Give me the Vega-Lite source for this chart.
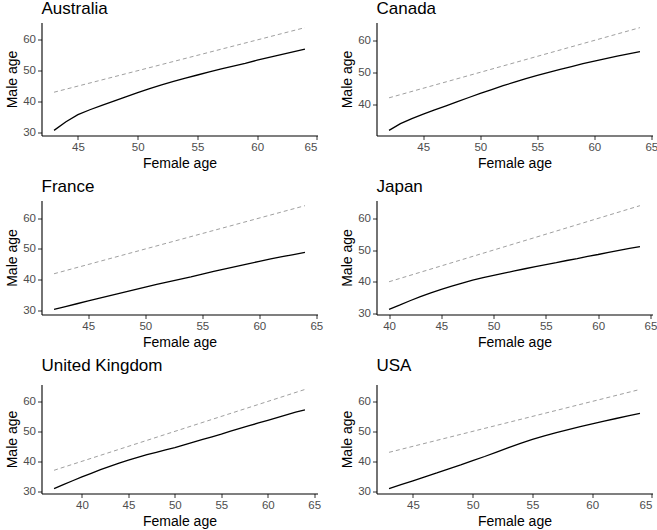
{
  "$schema": "https://vega.github.io/schema/vega-lite/v6.json",
  "padding": {"left": 5.5, "top": -0.5, "right": 0, "bottom": 0},
  "background": "white",
  "datasets": {
    "curves": [
      {"country":"Australia","kind":"fit","female":43,"male":30.6},{"country":"Australia","kind":"fit","female":44,"male":33.4},{"country":"Australia","kind":"fit","female":45,"male":35.7},{"country":"Australia","kind":"fit","female":46,"male":37.3},{"country":"Australia","kind":"fit","female":47,"male":38.7},{"country":"Australia","kind":"fit","female":48,"male":40.1},{"country":"Australia","kind":"fit","female":49,"male":41.5},{"country":"Australia","kind":"fit","female":50,"male":42.9},{"country":"Australia","kind":"fit","female":51,"male":44.2},{"country":"Australia","kind":"fit","female":52,"male":45.4},{"country":"Australia","kind":"fit","female":53,"male":46.5},{"country":"Australia","kind":"fit","female":54,"male":47.6},{"country":"Australia","kind":"fit","female":55,"male":48.6},{"country":"Australia","kind":"fit","female":56,"male":49.6},{"country":"Australia","kind":"fit","female":57,"male":50.6},{"country":"Australia","kind":"fit","female":58,"male":51.5},{"country":"Australia","kind":"fit","female":59,"male":52.4},{"country":"Australia","kind":"fit","female":60,"male":53.4},{"country":"Australia","kind":"fit","female":61,"male":54.3},{"country":"Australia","kind":"fit","female":62,"male":55.2},{"country":"Australia","kind":"fit","female":63,"male":56.1},{"country":"Australia","kind":"fit","female":64,"male":57.0},
      {"country":"Australia","kind":"equal","female":43,"male":43},{"country":"Australia","kind":"equal","female":64,"male":64},
      {"country":"Canada","kind":"fit","female":42,"male":31.8},{"country":"Canada","kind":"fit","female":43,"male":33.9},{"country":"Canada","kind":"fit","female":44,"male":35.5},{"country":"Canada","kind":"fit","female":45,"male":36.9},{"country":"Canada","kind":"fit","female":46,"male":38.2},{"country":"Canada","kind":"fit","female":47,"male":39.5},{"country":"Canada","kind":"fit","female":48,"male":40.8},{"country":"Canada","kind":"fit","female":49,"male":42.1},{"country":"Canada","kind":"fit","female":50,"male":43.4},{"country":"Canada","kind":"fit","female":51,"male":44.6},{"country":"Canada","kind":"fit","female":52,"male":45.8},{"country":"Canada","kind":"fit","female":53,"male":46.9},{"country":"Canada","kind":"fit","female":54,"male":48.0},{"country":"Canada","kind":"fit","female":55,"male":49.0},{"country":"Canada","kind":"fit","female":56,"male":50.0},{"country":"Canada","kind":"fit","female":57,"male":50.9},{"country":"Canada","kind":"fit","female":58,"male":51.8},{"country":"Canada","kind":"fit","female":59,"male":52.7},{"country":"Canada","kind":"fit","female":60,"male":53.5},{"country":"Canada","kind":"fit","female":61,"male":54.3},{"country":"Canada","kind":"fit","female":62,"male":55.1},{"country":"Canada","kind":"fit","female":63,"male":55.8},{"country":"Canada","kind":"fit","female":64,"male":56.5},
      {"country":"Canada","kind":"equal","female":42,"male":42},{"country":"Canada","kind":"equal","female":64,"male":64},
      {"country":"France","kind":"fit","female":42,"male":30.5},{"country":"France","kind":"fit","female":43,"male":31.4},{"country":"France","kind":"fit","female":44,"male":32.3},{"country":"France","kind":"fit","female":45,"male":33.2},{"country":"France","kind":"fit","female":46,"male":34.1},{"country":"France","kind":"fit","female":47,"male":35.0},{"country":"France","kind":"fit","female":48,"male":35.9},{"country":"France","kind":"fit","female":49,"male":36.8},{"country":"France","kind":"fit","female":50,"male":37.7},{"country":"France","kind":"fit","female":51,"male":38.6},{"country":"France","kind":"fit","female":52,"male":39.4},{"country":"France","kind":"fit","female":53,"male":40.2},{"country":"France","kind":"fit","female":54,"male":41.0},{"country":"France","kind":"fit","female":55,"male":41.9},{"country":"France","kind":"fit","female":56,"male":42.8},{"country":"France","kind":"fit","female":57,"male":43.6},{"country":"France","kind":"fit","female":58,"male":44.4},{"country":"France","kind":"fit","female":59,"male":45.2},{"country":"France","kind":"fit","female":60,"male":46.0},{"country":"France","kind":"fit","female":61,"male":46.8},{"country":"France","kind":"fit","female":62,"male":47.5},{"country":"France","kind":"fit","female":63,"male":48.2},{"country":"France","kind":"fit","female":64,"male":48.9},
      {"country":"France","kind":"equal","female":42,"male":42},{"country":"France","kind":"equal","female":64,"male":64},
      {"country":"Japan","kind":"fit","female":40,"male":31.3},{"country":"Japan","kind":"fit","female":41,"male":32.6},{"country":"Japan","kind":"fit","female":42,"male":34.0},{"country":"Japan","kind":"fit","female":43,"male":35.3},{"country":"Japan","kind":"fit","female":44,"male":36.5},{"country":"Japan","kind":"fit","female":45,"male":37.6},{"country":"Japan","kind":"fit","female":46,"male":38.6},{"country":"Japan","kind":"fit","female":47,"male":39.6},{"country":"Japan","kind":"fit","female":48,"male":40.5},{"country":"Japan","kind":"fit","female":49,"male":41.3},{"country":"Japan","kind":"fit","female":50,"male":42.0},{"country":"Japan","kind":"fit","female":51,"male":42.7},{"country":"Japan","kind":"fit","female":52,"male":43.4},{"country":"Japan","kind":"fit","female":53,"male":44.1},{"country":"Japan","kind":"fit","female":54,"male":44.8},{"country":"Japan","kind":"fit","female":55,"male":45.4},{"country":"Japan","kind":"fit","female":56,"male":46.0},{"country":"Japan","kind":"fit","female":57,"male":46.7},{"country":"Japan","kind":"fit","female":58,"male":47.3},{"country":"Japan","kind":"fit","female":59,"male":48.0},{"country":"Japan","kind":"fit","female":60,"male":48.6},{"country":"Japan","kind":"fit","female":61,"male":49.3},{"country":"Japan","kind":"fit","female":62,"male":49.9},{"country":"Japan","kind":"fit","female":63,"male":50.5},{"country":"Japan","kind":"fit","female":64,"male":51.1},
      {"country":"Japan","kind":"equal","female":40,"male":40},{"country":"Japan","kind":"equal","female":64,"male":64},
      {"country":"United Kingdom","kind":"fit","female":37,"male":30.9},{"country":"United Kingdom","kind":"fit","female":38,"male":32.2},{"country":"United Kingdom","kind":"fit","female":39,"male":33.5},{"country":"United Kingdom","kind":"fit","female":40,"male":34.8},{"country":"United Kingdom","kind":"fit","female":41,"male":36.0},{"country":"United Kingdom","kind":"fit","female":42,"male":37.2},{"country":"United Kingdom","kind":"fit","female":43,"male":38.3},{"country":"United Kingdom","kind":"fit","female":44,"male":39.4},{"country":"United Kingdom","kind":"fit","female":45,"male":40.4},{"country":"United Kingdom","kind":"fit","female":46,"male":41.3},{"country":"United Kingdom","kind":"fit","female":47,"male":42.2},{"country":"United Kingdom","kind":"fit","female":48,"male":43.0},{"country":"United Kingdom","kind":"fit","female":49,"male":43.8},{"country":"United Kingdom","kind":"fit","female":50,"male":44.6},{"country":"United Kingdom","kind":"fit","female":51,"male":45.5},{"country":"United Kingdom","kind":"fit","female":52,"male":46.4},{"country":"United Kingdom","kind":"fit","female":53,"male":47.3},{"country":"United Kingdom","kind":"fit","female":54,"male":48.2},{"country":"United Kingdom","kind":"fit","female":55,"male":49.1},{"country":"United Kingdom","kind":"fit","female":56,"male":50.1},{"country":"United Kingdom","kind":"fit","female":57,"male":51.0},{"country":"United Kingdom","kind":"fit","female":58,"male":51.9},{"country":"United Kingdom","kind":"fit","female":59,"male":52.8},{"country":"United Kingdom","kind":"fit","female":60,"male":53.7},{"country":"United Kingdom","kind":"fit","female":61,"male":54.6},{"country":"United Kingdom","kind":"fit","female":62,"male":55.5},{"country":"United Kingdom","kind":"fit","female":63,"male":56.4},{"country":"United Kingdom","kind":"fit","female":64,"male":57.2},
      {"country":"United Kingdom","kind":"equal","female":37,"male":37},{"country":"United Kingdom","kind":"equal","female":64,"male":64},
      {"country":"USA","kind":"fit","female":43,"male":30.9},{"country":"USA","kind":"fit","female":44,"male":32.2},{"country":"USA","kind":"fit","female":45,"male":33.5},{"country":"USA","kind":"fit","female":46,"male":34.8},{"country":"USA","kind":"fit","female":47,"male":36.1},{"country":"USA","kind":"fit","female":48,"male":37.5},{"country":"USA","kind":"fit","female":49,"male":38.8},{"country":"USA","kind":"fit","female":50,"male":40.2},{"country":"USA","kind":"fit","female":51,"male":41.6},{"country":"USA","kind":"fit","female":52,"male":43.1},{"country":"USA","kind":"fit","female":53,"male":44.6},{"country":"USA","kind":"fit","female":54,"male":46.0},{"country":"USA","kind":"fit","female":55,"male":47.3},{"country":"USA","kind":"fit","female":56,"male":48.5},{"country":"USA","kind":"fit","female":57,"male":49.6},{"country":"USA","kind":"fit","female":58,"male":50.6},{"country":"USA","kind":"fit","female":59,"male":51.6},{"country":"USA","kind":"fit","female":60,"male":52.5},{"country":"USA","kind":"fit","female":61,"male":53.4},{"country":"USA","kind":"fit","female":62,"male":54.3},{"country":"USA","kind":"fit","female":63,"male":55.2},{"country":"USA","kind":"fit","female":64,"male":56.0},
      {"country":"USA","kind":"equal","female":43,"male":43},{"country":"USA","kind":"equal","female":64,"male":64}
    ]
  },
  "data": {"name": "curves"},
  "columns": 2,
  "spacing": {"column": 17, "row": 7},
  "resolve": {"scale": {"x": "independent", "y": "independent"}},
  "concat": [
    {
      "title": {"text": "Australia"},
      "width": 276, "height": 113,
      "transform": [{"filter": "datum.country === 'Australia'"}],
      "encoding": {
        "x": {"field": "female", "type": "quantitative", "title": "Female age", "scale": {"domain": [41.95, 65.05], "nice": false, "zero": false}, "axis": {"values": [45, 50, 55, 60, 65]}},
        "y": {"field": "male", "type": "quantitative", "title": "Male age", "scale": {"domain": [28.93, 65.67], "nice": false, "zero": false}, "axis": {"values": [30, 40, 50, 60]}}
      },
      "layer": [
        {"transform": [{"filter": "datum.kind === 'equal'"}], "mark": {"type": "line", "color": "#a0a0a0", "strokeWidth": 1, "strokeDash": [4, 3]}},
        {"transform": [{"filter": "datum.kind === 'fit'"}], "mark": {"type": "line", "color": "black", "strokeWidth": 1.3}}
      ]
    },
    {
      "title": {"text": "Canada"},
      "width": 276, "height": 113,
      "transform": [{"filter": "datum.country === 'Canada'"}],
      "encoding": {
        "x": {"field": "female", "type": "quantitative", "title": "Female age", "scale": {"domain": [40.9, 65.1], "nice": false, "zero": false}, "axis": {"values": [45, 50, 55, 60, 65]}},
        "y": {"field": "male", "type": "quantitative", "title": "Male age", "scale": {"domain": [30.19, 65.61], "nice": false, "zero": false}, "axis": {"values": [40, 50, 60]}}
      },
      "layer": [
        {"transform": [{"filter": "datum.kind === 'equal'"}], "mark": {"type": "line", "color": "#a0a0a0", "strokeWidth": 1, "strokeDash": [4, 3]}},
        {"transform": [{"filter": "datum.kind === 'fit'"}], "mark": {"type": "line", "color": "black", "strokeWidth": 1.3}}
      ]
    },
    {
      "title": {"text": "France"},
      "width": 276, "height": 114,
      "transform": [{"filter": "datum.country === 'France'"}],
      "encoding": {
        "x": {"field": "female", "type": "quantitative", "title": "Female age", "scale": {"domain": [40.9, 65.1], "nice": false, "zero": false}, "axis": {"values": [45, 50, 55, 60, 65]}},
        "y": {"field": "male", "type": "quantitative", "title": "Male age", "scale": {"domain": [28.825, 65.675], "nice": false, "zero": false}, "axis": {"values": [30, 40, 50, 60]}}
      },
      "layer": [
        {"transform": [{"filter": "datum.kind === 'equal'"}], "mark": {"type": "line", "color": "#a0a0a0", "strokeWidth": 1, "strokeDash": [4, 3]}},
        {"transform": [{"filter": "datum.kind === 'fit'"}], "mark": {"type": "line", "color": "black", "strokeWidth": 1.3}}
      ]
    },
    {
      "title": {"text": "Japan"},
      "width": 276, "height": 114,
      "transform": [{"filter": "datum.country === 'Japan'"}],
      "encoding": {
        "x": {"field": "female", "type": "quantitative", "title": "Female age", "scale": {"domain": [38.8, 65.2], "nice": false, "zero": false}, "axis": {"values": [40, 45, 50, 55, 60, 65]}},
        "y": {"field": "male", "type": "quantitative", "title": "Male age", "scale": {"domain": [29.665, 65.635], "nice": false, "zero": false}, "axis": {"values": [30, 40, 50, 60]}}
      },
      "layer": [
        {"transform": [{"filter": "datum.kind === 'equal'"}], "mark": {"type": "line", "color": "#a0a0a0", "strokeWidth": 1, "strokeDash": [4, 3]}},
        {"transform": [{"filter": "datum.kind === 'fit'"}], "mark": {"type": "line", "color": "black", "strokeWidth": 1.3}}
      ]
    },
    {
      "title": {"text": "United Kingdom", "offset": 9.5},
      "width": 276, "height": 109,
      "transform": [{"filter": "datum.country === 'United Kingdom'"}],
      "encoding": {
        "x": {"field": "female", "type": "quantitative", "title": "Female age", "scale": {"domain": [35.65, 65.35], "nice": false, "zero": false}, "axis": {"values": [40, 45, 50, 55, 60, 65]}},
        "y": {"field": "male", "type": "quantitative", "title": "Male age", "scale": {"domain": [29.245, 65.655], "nice": false, "zero": false}, "axis": {"values": [30, 40, 50, 60]}}
      },
      "layer": [
        {"transform": [{"filter": "datum.kind === 'equal'"}], "mark": {"type": "line", "color": "#a0a0a0", "strokeWidth": 1, "strokeDash": [4, 3]}},
        {"transform": [{"filter": "datum.kind === 'fit'"}], "mark": {"type": "line", "color": "black", "strokeWidth": 1.3}}
      ]
    },
    {
      "title": {"text": "USA", "offset": 9.5},
      "width": 276, "height": 109,
      "transform": [{"filter": "datum.country === 'USA'"}],
      "encoding": {
        "x": {"field": "female", "type": "quantitative", "title": "Female age", "scale": {"domain": [41.95, 65.05], "nice": false, "zero": false}, "axis": {"values": [45, 50, 55, 60, 65]}},
        "y": {"field": "male", "type": "quantitative", "title": "Male age", "scale": {"domain": [29.245, 65.655], "nice": false, "zero": false}, "axis": {"values": [30, 40, 50, 60]}}
      },
      "layer": [
        {"transform": [{"filter": "datum.kind === 'equal'"}], "mark": {"type": "line", "color": "#a0a0a0", "strokeWidth": 1, "strokeDash": [4, 3]}},
        {"transform": [{"filter": "datum.kind === 'fit'"}], "mark": {"type": "line", "color": "black", "strokeWidth": 1.3}}
      ]
    }
  ],
  "config": {
    "font": "Liberation Sans",
    "view": {"stroke": null},
    "title": {"anchor": "start", "frame": "group", "fontSize": 17, "fontWeight": "normal", "color": "black", "offset": 5},
    "axis": {
      "grid": false,
      "domainColor": "black",
      "domainWidth": 1.1,
      "tickColor": "#333333",
      "tickSize": 4,
      "tickWidth": 1,
      "labelColor": "#4d4d4d",
      "labelFontSize": 11.5,
      "labelPadding": 2,
      "titleFontSize": 14,
      "titleFontWeight": "normal",
      "titleColor": "black",
      "titlePadding": 3
    }
  }
}
